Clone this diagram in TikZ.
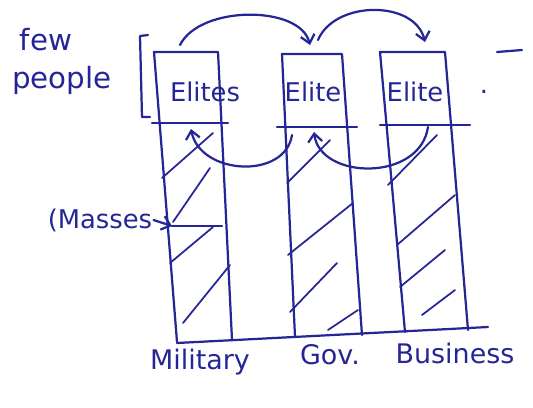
\documentclass[tikz,border=0pt]{standalone}
\usepackage{fontspec}
\setmainfont{DejaVu Sans}
\usetikzlibrary{arrows.meta}
\definecolor{ink}{RGB}{36,38,150}
\tikzset{
  pen/.style={ink, line width=1.9pt, line cap=round, line join=round},
  hatch/.style={ink, line width=1.5pt, line cap=round},
  flow/.style={pen, -{Straight Barb[length=7pt,width=12pt]}},
  hand/.style={text=ink, inner sep=1pt, font=\fontsize{22}{24}\selectfont},
}
\begin{document}
\begin{tikzpicture}[x=0.03cm, y=-0.03cm]
  \useasboundingbox (0,0) rectangle (533,407);
  % columns (open at the bottom, closed by the base line)
  \draw[pen] (177,342) -- (154,52) -- (218,52) -- (232,340);
  \draw[pen] (295,337) -- (282,54) -- (342,54) -- (362,335);
  \draw[pen] (405,332) -- (380,52) -- (445,52) -- (468,330);
  \draw[pen] (177,343) -- (488,327);
  % elite layer
  \draw[pen] (152,123) -- (228,123) (277,127) -- (357,127) (380,125) -- (470,125);
  \node[hand] (milelite) at (205,92) {Elites};
  \node[hand] (govelite) at (313,92) {Elite};
  \node[hand] (buselite) at (415,92) {Elite};
  \node[hand] (dot) at (484,92) {.};
  \draw[pen] (497,52) -- (522,50);
  % hatching of the masses
  \foreach \a/\b/\c/\d in {162/178/213/133, 173/222/210/168, 170/263/213/227, 183/323/230/265,
                           287/183/330/140, 288/255/353/203, 290/312/337/263, 328/330/358/310,
                           388/185/437/135, 397/245/455/195, 400/287/445/250, 422/315/455/290}
    {\draw[hatch] (\a,\b) -- (\c,\d);}
  % left labels
  \node[hand, font=\fontsize{25}{27}\selectfont] (few) at (46,40) {few};
  \node[hand, font=\fontsize{25}{27}\selectfont] (people) at (62,80) {people};
  \draw[pen] (148,35) -- (140,36) -- (142,117) -- (150,117);
  \node[hand] (masses) at (100,220) {(Masses};
  \coordinate (milside) at (172,226);
  \coordinate (milright) at (222,226);
  \draw[flow] (masses.east) -- (milside);
  \draw[pen] (milside) -- (milright);
  % circulation of elites
  \coordinate (miltop) at (180,45);
  \coordinate (govin) at (310,45);
  \coordinate (govtop) at (318,40);
  \coordinate (busin) at (425,42);
  \draw[flow] (miltop) .. controls (200,5) and (300,5) .. (govin);
  \draw[flow] (govtop) .. controls (335,0) and (415,0) .. (busin);
  \coordinate (govlow) at (292,135);
  \coordinate (millow) at (191,129);
  \coordinate (buslow) at (428,127);
  \coordinate (govback) at (314,132);
  \draw[flow] (govlow) .. controls (285,180) and (200,175) .. (millow);
  \draw[flow] (buslow) .. controls (420,182) and (320,180) .. (govback);
  % sectors
  \node[hand, font=\fontsize{23}{25}\selectfont] (military) at (200,362) {Military};
  \node[hand, font=\fontsize{23}{25}\selectfont] (gov) at (330,355) {Gov.};
  \node[hand, font=\fontsize{23}{25}\selectfont] (business) at (455,353) {Business};
\end{tikzpicture}
\end{document}
